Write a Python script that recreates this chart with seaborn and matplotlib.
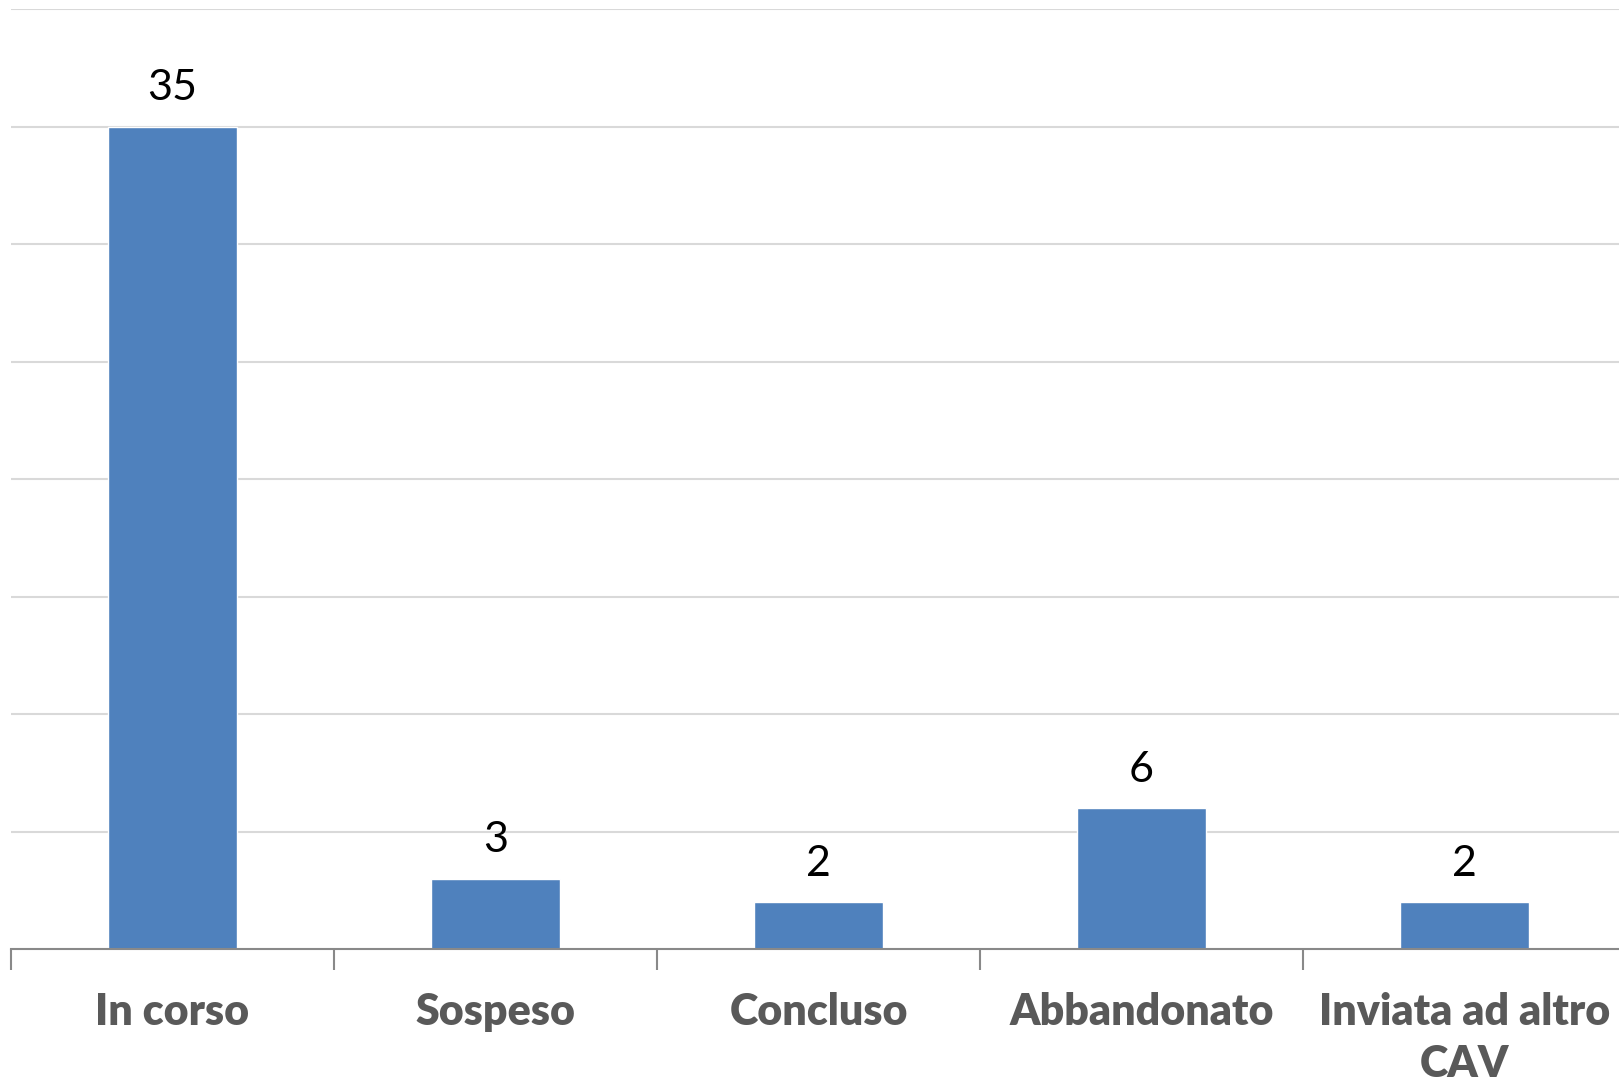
import numpy as np
import pandas as pd
import matplotlib
matplotlib.use("Agg")
import matplotlib.pyplot as plt
import seaborn as sns

# Data
categories = ["In corso", "Sospeso", "Concluso", "Abbandonato", "Inviata ad altro\nCAV"]
values = [35, 3, 2, 6, 2]

df = pd.DataFrame({"stato": categories, "n": values})

sns.set_theme(style="white")
plt.rcParams["font.family"] = ["Lato", "DejaVu Sans"]

fig = plt.figure(figsize=(16.19, 10.88), dpi=100)
ax = fig.add_axes([11 / 1619, 139 / 1088, 1615 / 1619, 940 / 1088])

sns.barplot(data=df, x="stato", y="n", color="#4f81bd", width=0.4, saturation=1, ax=ax)

ax.set_xlim(-0.5, 4.5)
ax.set_ylim(0, 40)
ax.set_yticks(np.arange(5, 41, 5))
ax.yaxis.grid(True, color="#d9d9d9", linewidth=1.5)
ax.set_axisbelow(True)
ax.tick_params(axis="y", left=False, labelleft=False)

for side in ["left", "right", "top"]:
    ax.spines[side].set_visible(False)
ax.spines["bottom"].set_color("#898989")
ax.spines["bottom"].set_linewidth(1.5)

# category labels with tick marks between categories
ax.set_xticks(range(len(categories)))
ax.set_xticklabels(categories, fontsize=31, fontweight="heavy", color="#595959", linespacing=1.35)
ax.tick_params(axis="x", which="major", length=0, pad=31)
ax.set_xticks(np.arange(-0.5, 5, 1), minor=True)
ax.tick_params(axis="x", which="minor", length=15, width=1.5, color="#898989", bottom=True)
ax.set_xlabel("")
ax.set_ylabel("")

# value labels
for i, v in enumerate(values):
    ax.annotate(str(v), (i, v), xytext=(0, 14), textcoords="offset points",
                ha="center", va="bottom", fontsize=31, color="black")

fig.savefig("out.png", dpi=100, facecolor="white")
